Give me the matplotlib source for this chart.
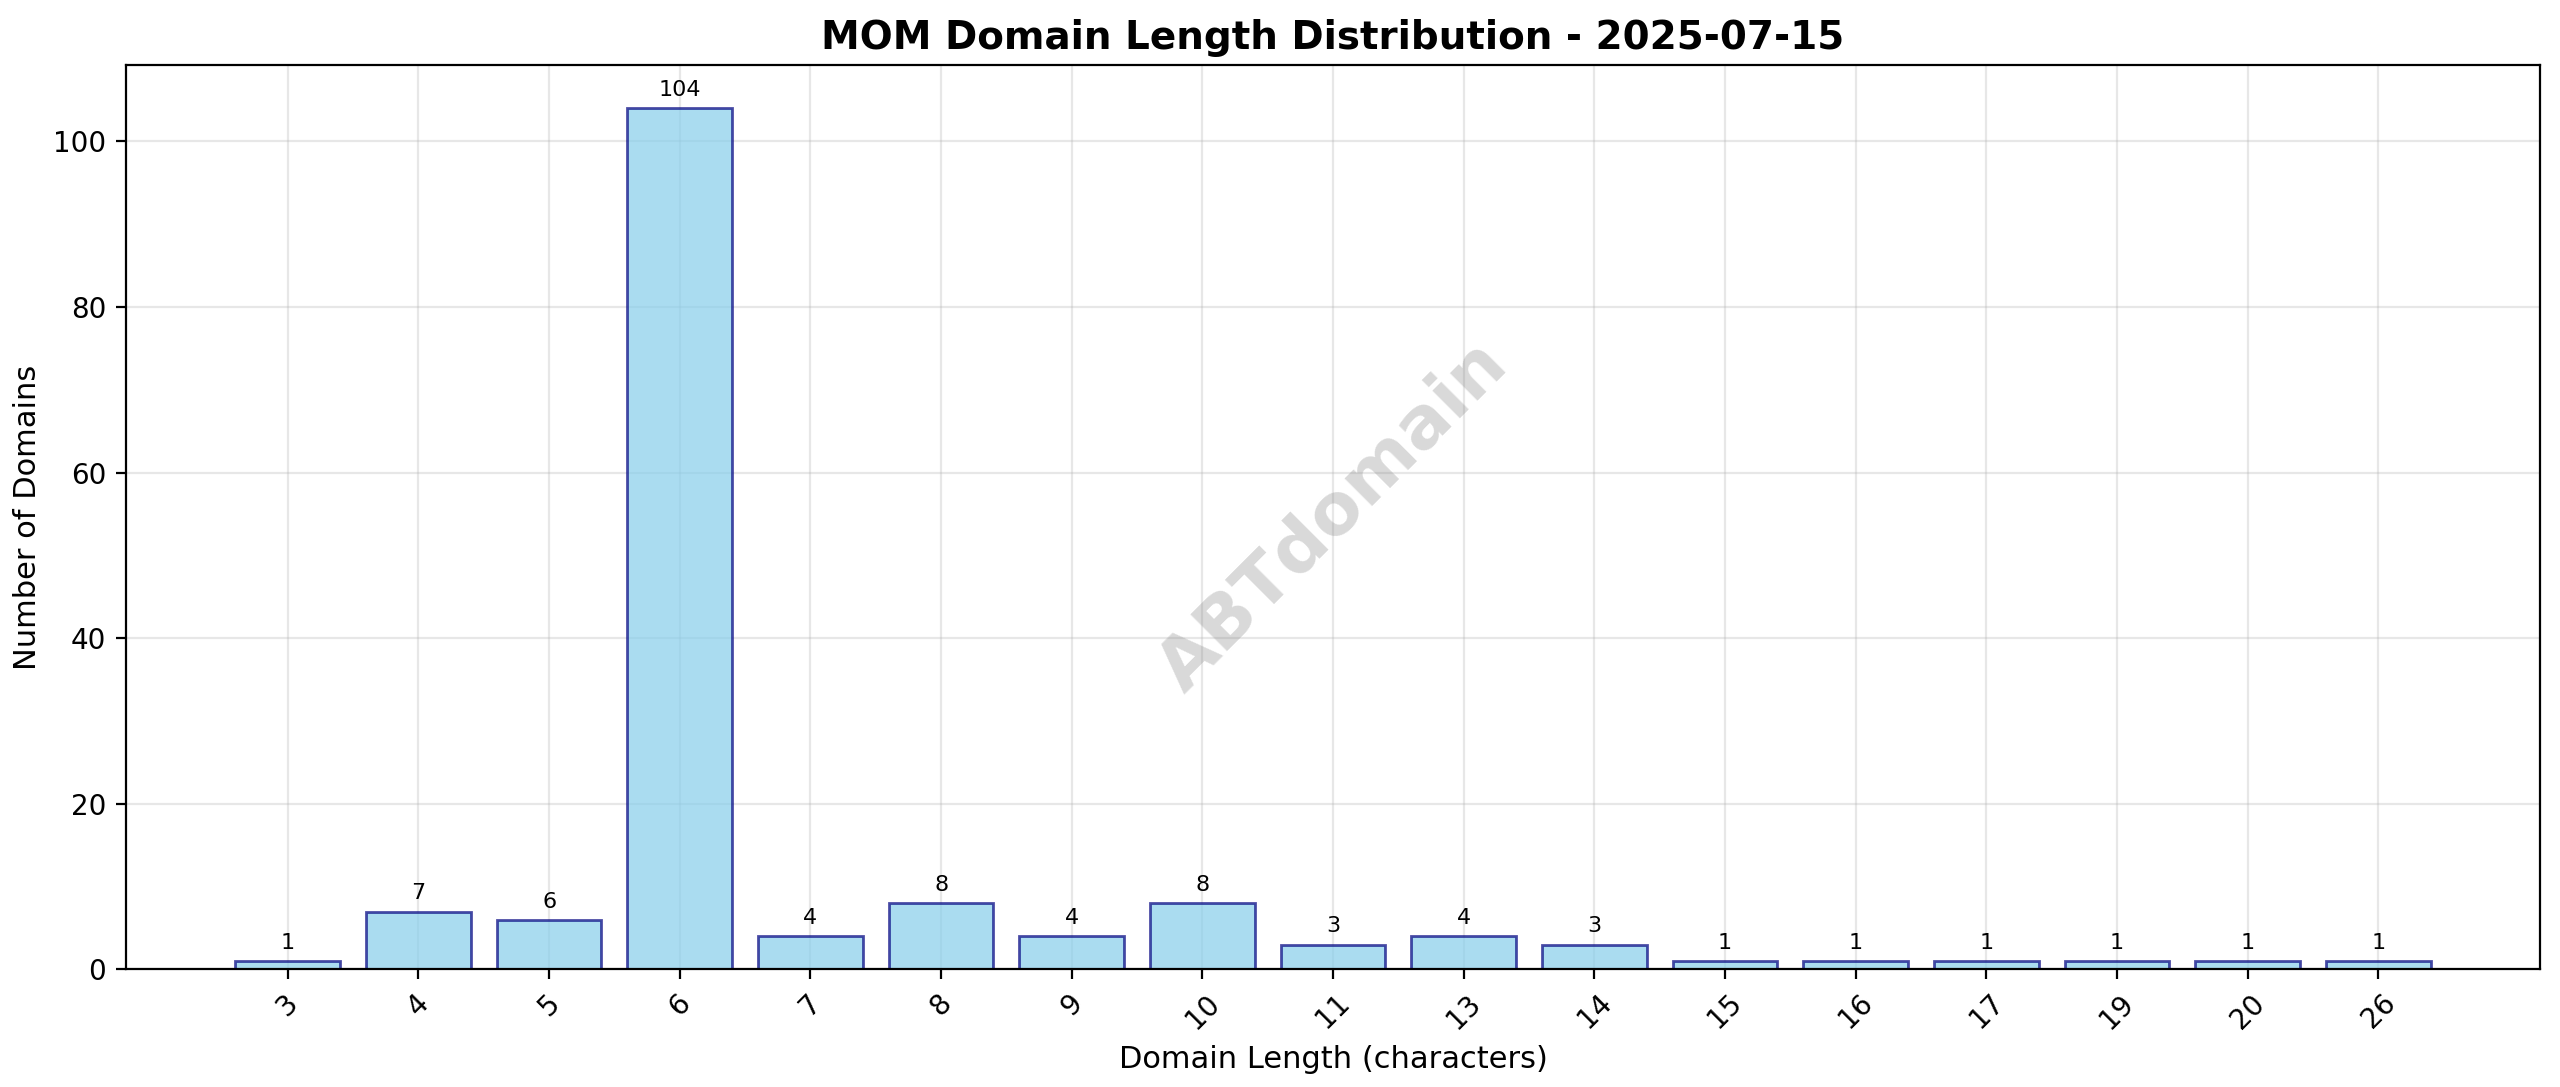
import matplotlib
matplotlib.use("Agg")
import matplotlib.pyplot as plt

lengths = ["3","4","5","6","7","8","9","10","11","13","14","15","16","17","19","20","26"]
counts = [1,7,6,104,4,8,4,8,3,4,3,1,1,1,1,1,1]

fig, ax = plt.subplots(figsize=(12.8, 5.435), dpi=200)
fig.subplots_adjust(left=77/1568, right=1556/1568, top=1-40/666, bottom=1-594/666)
bars = ax.bar(lengths, counts, color="skyblue", alpha=0.7, edgecolor="navy", linewidth=1)
for b, c in zip(bars, counts):
    ax.text(b.get_x()+b.get_width()/2, b.get_height()+1, str(c), ha="center", va="bottom", fontsize=8)
ax.set_ylim(0, 104*1.05)
ax.set_title("MOM Domain Length Distribution - 2025-07-15", fontsize=14, fontweight="bold")
ax.set_xlabel("Domain Length (characters)", fontsize=11)
ax.set_ylabel("Number of Domains", fontsize=11)
ax.grid(True, alpha=0.3)
ax.set_axisbelow(True)
plt.setp(ax.get_xticklabels(), rotation=45)
ax.text(0.5, 0.5, "ABTdomain", transform=ax.transAxes, fontsize=26, fontweight="bold",
        color="gray", alpha=0.3, rotation=45, ha="center", va="center")
fig.savefig("out.png", dpi=200)
